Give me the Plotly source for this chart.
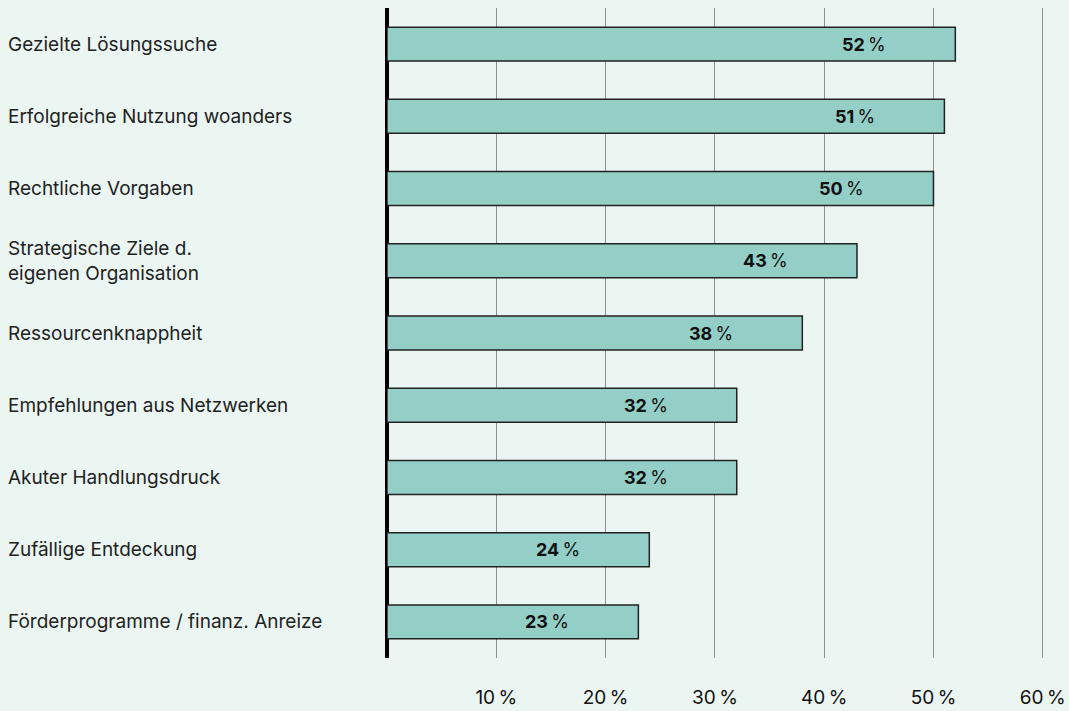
import plotly.graph_objects as go

categories = [
    "Gezielte Lösungssuche",
    "Erfolgreiche Nutzung woanders",
    "Rechtliche Vorgaben",
    "Strategische Ziele d.<br>eigenen Organisation",
    "Ressourcenknappheit",
    "Empfehlungen aus Netzwerken",
    "Akuter Handlungsdruck",
    "Zufällige Entdeckung",
    "Förderprogramme / finanz. Anreize",
]
values = [52, 51, 50, 43, 38, 32, 32, 24, 23]
tick_vals = [10, 20, 30, 40, 50, 60]
tick_text = ["10\u202f%", "20\u202f%", "30\u202f%", "40\u202f%", "50\u202f%", "60\u202f%"]

BG = "#EBF6F3"
FONT = "Inter, Roboto, sans-serif"

fig = go.Figure()
fig.add_trace(go.Bar(
    y=categories, x=values, orientation="h",
    marker=dict(color="#94CFC7", line=dict(color="#222222", width=1.5)),
    width=0.47, hoverinfo="skip",
))

annotations = []
for c, v in zip(categories, values):
    annotations.append(dict(
        x=v, y=c, xref="x", yref="y", xanchor="right", yanchor="middle",
        xshift=-67, showarrow=False,
        text=f"<b>{v}</b>\u202f%", font=dict(family=FONT, size=18, color="#111111"),
    ))
    annotations.append(dict(
        x=0, y=c, xref="paper", yref="y", xanchor="left", yanchor="middle",
        xshift=-381, showarrow=False, align="left",
        text=c, font=dict(family=FONT, size=19, color="#222222"),
    ))

fig.update_layout(
    width=1069, height=711,
    paper_bgcolor=BG, plot_bgcolor=BG,
    margin=dict(l=387, r=0, t=8, b=53),
    showlegend=False,
    bargap=0.53,
    font=dict(family=FONT, size=17, color="#222222"),
    annotations=annotations,
    xaxis=dict(
        range=[0, 62.4], tickvals=tick_vals, ticktext=tick_text,
        showgrid=True, gridcolor="#8E8E8E", gridwidth=1.2,
        zeroline=True, zerolinecolor="#000000", zerolinewidth=3.5,
        showline=False, ticks="", ticklabelstandoff=26,
        tickfont=dict(family=FONT, size=19, color="#111111"),
        fixedrange=True,
    ),
    yaxis=dict(
        categoryorder="array", categoryarray=categories[::-1],
        showticklabels=False, showgrid=False, zeroline=False, ticks="",
        fixedrange=True,
    ),
)

fig.write_html(
    "out.html",
    config={"displayModeBar": False},
    post_script="document.body.style.margin='0';document.body.style.background='" + BG + "';",
)
